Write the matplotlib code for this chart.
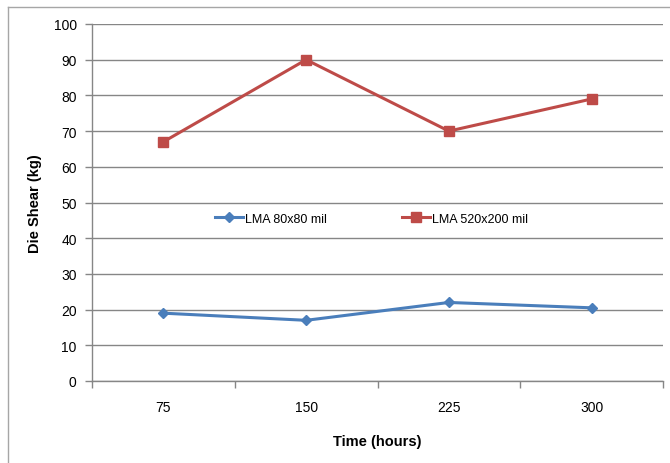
import matplotlib
matplotlib.use("Agg")
import matplotlib.pyplot as plt
from matplotlib.lines import Line2D

categories = ["75", "150", "225", "300"]
lma_80 = [19, 17, 22, 20.5]
lma_520 = [67, 90, 70, 79]
series_names = ["LMA 80x80 mil", "LMA 520x200 mil"]

plt.rcParams['font.family'] = ['Liberation Sans', 'DejaVu Sans']

W, H = 670, 464
fig = plt.figure(figsize=(W/100, H/100), dpi=100)
ax = fig.add_axes([92/W, 1-382/H, (663-92)/W, (382-25)/H])

x = list(range(len(categories)))
blue = "#4A7EBB"
red = "#BE4B48"
ax.plot(x, lma_80, color=blue, lw=2.2, marker="D", ms=5.5, mfc=blue, mec=blue, label=series_names[0], zorder=3)
ax.plot(x, lma_520, color=red, lw=2.2, marker="s", ms=6.5, mfc=red, mec=red, label=series_names[1], zorder=3)

ax.set_xlim(-0.5, len(categories)-0.5)
ax.set_ylim(0, 100)
ax.set_yticks(range(0, 101, 10))
ax.set_xticks(x)
ax.set_xticklabels(categories)
ax.set_xticks([i-0.5 for i in range(len(categories)+1)], minor=True)
ax.tick_params(axis='x', which='major', length=0, pad=14, labelsize=10)
ax.tick_params(axis='x', which='minor', length=5, color="#868686", width=1)
ax.tick_params(axis='y', length=5, color="#868686", width=1, labelsize=10, pad=6)
ax.grid(axis='y', color="#868686", lw=1, zorder=0)
for s in ["top", "right"]:
    ax.spines[s].set_visible(False)
for s in ["left", "bottom"]:
    ax.spines[s].set_color("#868686")
    ax.spines[s].set_linewidth(1)

ax.set_xlabel("Time (hours)", fontsize=10.5, fontweight="bold", labelpad=14)
ax.set_ylabel("Die Shear (kg)", fontsize=10.5, fontweight="bold", labelpad=8)

leg = ax.legend(loc="center", bbox_to_anchor=(0.49, 0.455), ncol=2, frameon=False,
                fontsize=9, handlelength=2.2, columnspacing=6, handletextpad=0.2)

# outer chart frame
fig.add_artist(Line2D([8/W, 8/W], [0, 1-8/H], transform=fig.transFigure, color="#a6a6a6", lw=1))
fig.add_artist(Line2D([8/W, 1], [1-8/H, 1-8/H], transform=fig.transFigure, color="#a6a6a6", lw=1))

fig.savefig("out.png", dpi=100)
